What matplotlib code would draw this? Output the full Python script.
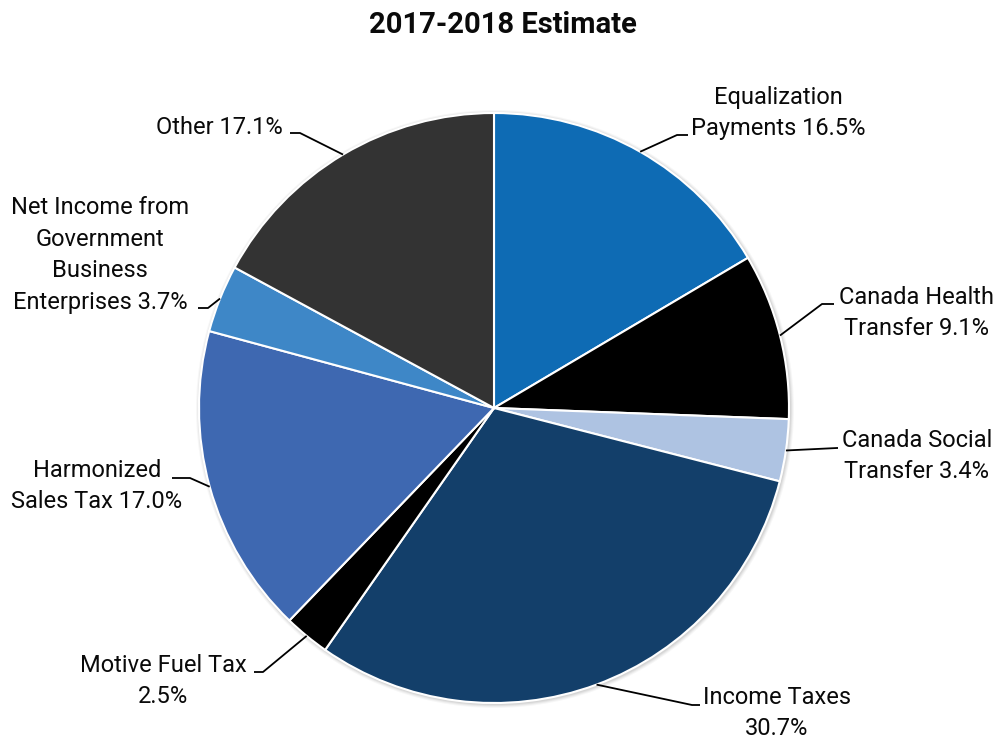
import numpy as np
import matplotlib
matplotlib.use("Agg")
import matplotlib.pyplot as plt
from matplotlib.patches import Circle

plt.rcParams["font.family"] = ["Roboto", "DejaVu Sans"]

# Revenue sources, 2017-2018 estimate (percent of total)
categories = [
    "Equalization\nPayments",
    "Canada Health\nTransfer",
    "Canada Social\nTransfer",
    "Income Taxes\n",
    "Motive Fuel Tax\n",
    "Harmonized\nSales Tax",
    "Net Income from\nGovernment\nBusiness\nEnterprises",
    "Other",
]
shares = [16.5, 9.1, 3.4, 30.7, 2.5, 17.0, 3.7, 17.1]
colors = ["#0e6bb4", "#000000", "#aec3e2", "#133f6a",
          "#000000", "#3e68b1", "#3e87c7", "#333333"]

W, H = 1002, 742
fig = plt.figure(figsize=(W / 100, H / 100), dpi=100)
ax = fig.add_axes([0, 0, 1, 1])

cx, cy, r = 494, H - 408, 295

# soft shadow around the disc
for k, a in enumerate([0.05, 0.05, 0.04, 0.03]):
    ax.add_patch(Circle((cx + 1, cy - 1), r + 1 + k, color="black", alpha=a,
                        lw=0, zorder=0))

wedges, _ = ax.pie(shares, colors=colors, startangle=90, counterclock=False,
                   center=(cx, cy), radius=r,
                   wedgeprops=dict(edgecolor="white", linewidth=1.5),
                   frame=True)
ax.set_xlim(0, W)
ax.set_ylim(0, H)
ax.set_aspect("equal")
ax.axis("off")

# label layout: (elbow x, elbow y, end x, text x, text y, ha)
layout = [
    (677, 135, 688, 778, 113, "center"),
    (822, 304, 834, 917, 313, "center"),
    (837, 448, 838, 917, 456, "center"),
    (692, 705, 700, 777, 713, "center"),
    (263, 672, 254, 163, 681, "center"),
    (190, 478, 172, 97, 486, "center"),
    (208, 308, 198, 100, 255, "center"),
    (300, 133, 290, 219, 128, "center"),
]

for w, val, lab, (ex, ey, hx, tx, ty, ha) in zip(wedges, shares, categories, layout):
    mid = np.deg2rad((w.theta1 + w.theta2) / 2)
    px, py = cx + r * np.cos(mid), cy + r * np.sin(mid)
    ax.plot([px, ex, hx], [py, H - ey, H - ey], color="black", lw=1.3,
            solid_capstyle="butt", zorder=5)
    lines = lab.split("\n")
    if lines[-1] == "":
        text = lines[0] + "\n" + f"{val:.1f}%"
    else:
        text = lab + f" {val:.1f}%"
    ax.text(tx, H - ty, text, ha=ha, va="center", fontsize=17,
            linespacing=1.48, color="#0a0a0a")

ax.text(W / 2 + 2, H - 25, "2017-2018 Estimate", ha="center", va="center",
        fontsize=21, fontweight="bold", color="#0a0a0a")

fig.savefig("out.png", dpi=100)
